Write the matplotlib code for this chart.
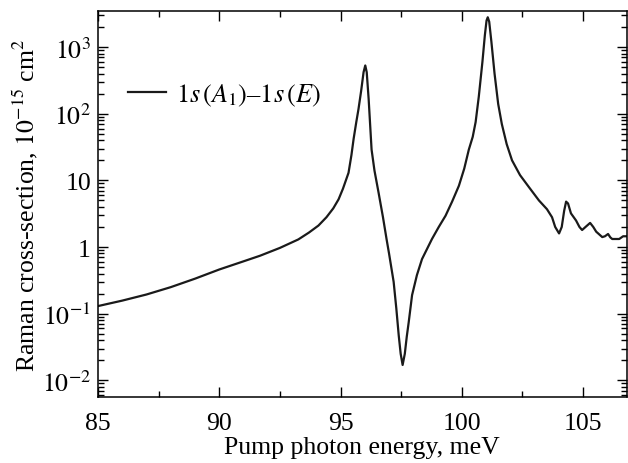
import matplotlib
matplotlib.use("Agg")
import matplotlib.pyplot as plt
import matplotlib.ticker as ticker
import numpy as np

plt.rcParams["font.family"] = ["Liberation Serif", "DejaVu Serif"]
plt.rcParams["mathtext.fontset"] = "stix"

# Pump photon energy (meV) and Raman cross-section (1e-15 cm^2)
energy = [
    85.0, 86.0, 87.0, 88.0, 89.0, 90.0, 91.0, 91.68, 92.5, 93.26, 93.7, 94.09,
    94.42, 94.7, 94.92, 95.1, 95.33, 95.45, 95.54, 95.65, 95.74, 95.85, 95.95,
    96.02, 96.08, 96.16, 96.28, 96.4, 96.57, 96.75, 96.9, 97.0, 97.19, 97.3, 97.4,
    97.48, 97.56, 97.65, 97.73, 97.81, 97.95, 98.15, 98.36, 98.77, 99.05, 99.33,
    99.6, 99.88, 100.1, 100.29, 100.45, 100.57, 100.7, 100.85, 100.95, 101.02,
    101.07, 101.13, 101.22, 101.35, 101.5, 101.65, 101.85, 102.07, 102.4, 102.77,
    103.18, 103.51, 103.72, 103.85, 104.01, 104.12, 104.22, 104.3, 104.38, 104.5,
    104.71, 104.85, 104.96, 105.1, 105.29, 105.42, 105.54, 105.79, 105.9, 106.03,
    106.12, 106.2, 106.49, 106.65, 106.8,
]
cross_section = [
    0.13, 0.157, 0.194, 0.25, 0.335, 0.46, 0.61, 0.74, 0.97, 1.3, 1.65, 2.1,
    2.8, 3.8, 5.2, 7.5, 13, 24, 42, 75, 117, 220, 420,
    530, 420, 165, 29, 14, 6.5, 2.8, 1.3, 0.8, 0.3, 0.12, 0.047,
    0.025, 0.017, 0.025, 0.045, 0.074, 0.19, 0.38, 0.66, 1.32, 2.0, 2.95,
    4.8, 8.3, 15, 29, 45, 75, 180, 600, 1500, 2500,
    2800, 2400, 1200, 400, 140, 70, 35, 20, 12, 7.9,
    5.0, 3.7, 2.8, 2.0, 1.6, 2.0, 3.5, 4.8, 4.5, 3.2,
    2.5, 2.0, 1.8, 2.0, 2.3, 2.0, 1.7, 1.41, 1.45, 1.57,
    1.4, 1.32, 1.32, 1.45, 1.45,
]

fig = plt.figure(figsize=(6.28, 4.64), dpi=100)
ax = fig.add_axes([0.156, 0.142, 0.842, 0.832])

ax.plot(energy, cross_section, color="#1a1a1a", lw=1.6,
        label=r"$1s\,(A_1)$–$1s\,(E)$")

ax.set_yscale("log")
ax.set_xlim(85, 106.8)
ax.set_ylim(0.0056, 3470)

ax.set_xticks([85, 90, 95, 100, 105])
ax.xaxis.set_minor_locator(ticker.MultipleLocator(2.5))
ax.set_yticks([1e-2, 1e-1, 1, 10, 1e2, 1e3])
ax.set_yticklabels([r"$10^{-2}$", r"$10^{-1}$", "1", "10", r"$10^{2}$", r"$10^{3}$"])
ax.yaxis.set_minor_locator(ticker.LogLocator(base=10, subs=np.arange(2, 10)))
ax.yaxis.set_minor_formatter(ticker.NullFormatter())

ax.tick_params(which="both", direction="in", top=True, right=True, labelsize=18.5, width=1.0)
ax.tick_params(which="major", length=7)
ax.tick_params(which="minor", length=4)
ax.tick_params(axis="x", pad=11)
ax.tick_params(axis="y", pad=5)
for s in ax.spines.values():
    s.set_linewidth(1.1)

ax.set_xlabel("Pump photon energy, meV", fontsize=18.5, labelpad=1)
ax.set_ylabel(r"Raman cross-section, $10^{-15}$ cm$^2$", fontsize=18.5, labelpad=1)

ax.legend(loc="upper left", bbox_to_anchor=(0.036, 0.845), frameon=False, fontsize=19,
          handlelength=1.45, handletextpad=0.4, borderaxespad=0)

fig.savefig("out.png", dpi=100)
